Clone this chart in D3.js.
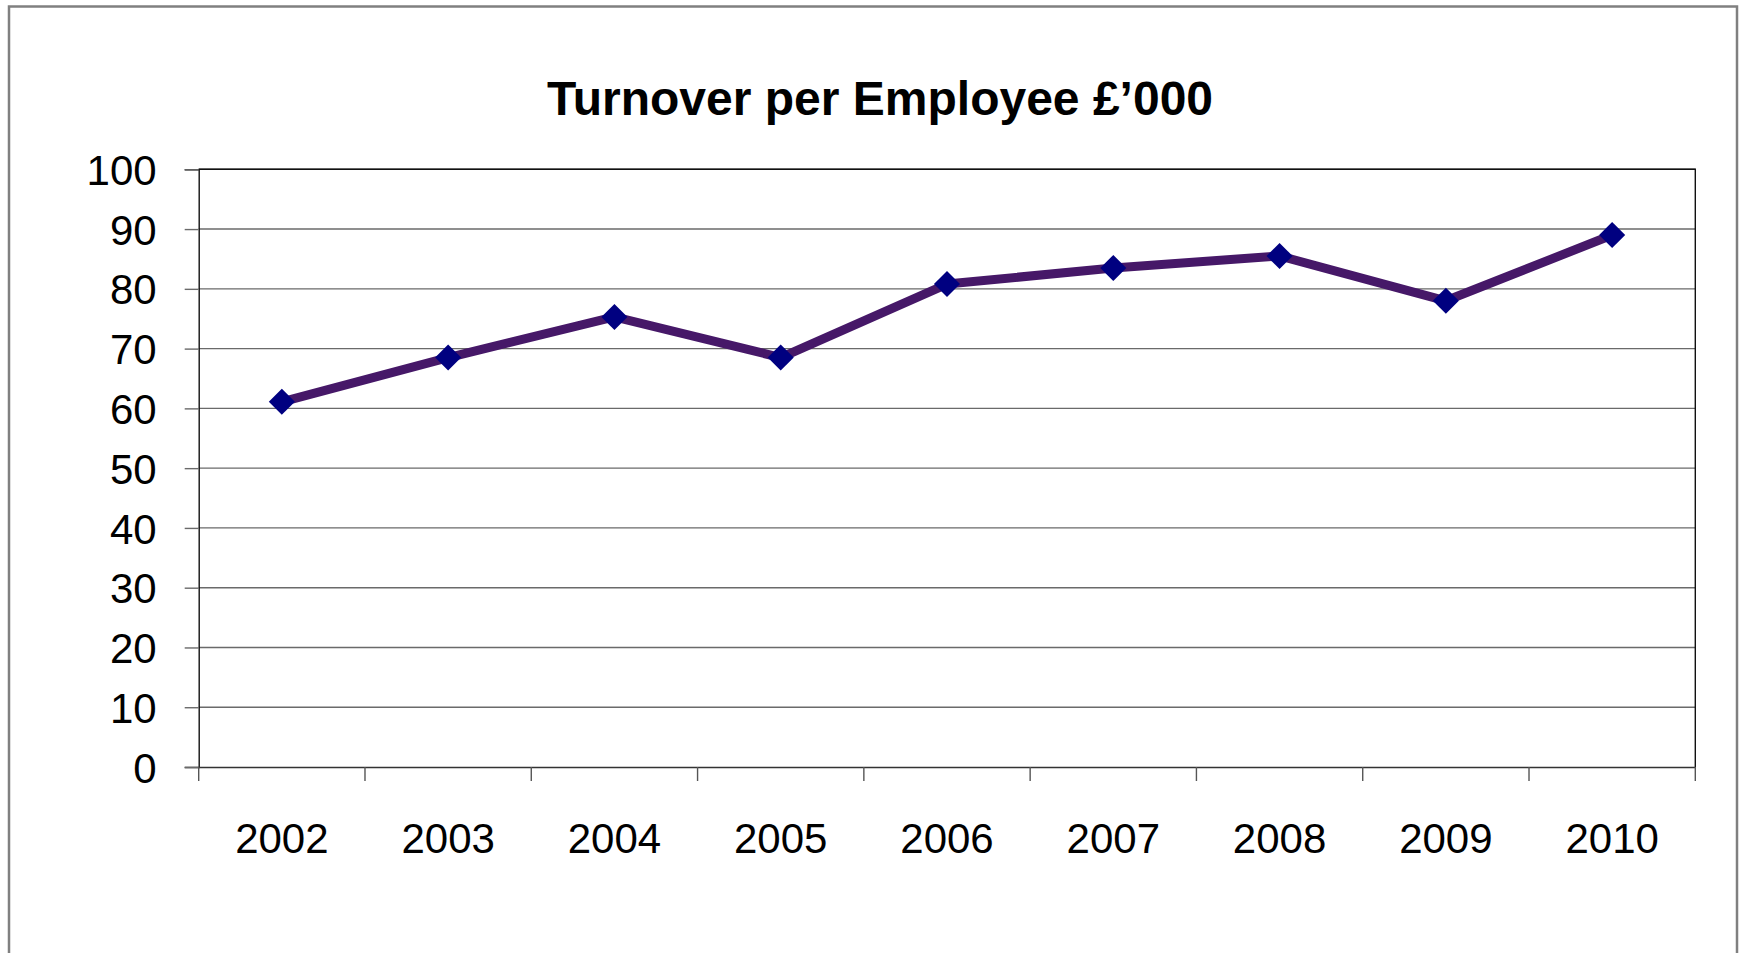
<!DOCTYPE html>
<html>
<head>
<meta charset="utf-8">
<script src="https://cdn.jsdelivr.net/npm/d3@7"></script>
<style>
  html, body { margin: 0; padding: 0; background: #fff; }
  svg { display: block; }
  text { font-family: "Liberation Sans", Arial, sans-serif; fill: #000; }
</style>
</head>
<body>
<svg id="chart" width="1741" height="953"></svg>
<script>
// Turnover per employee, £'000, by year
const years = ["2002", "2003", "2004", "2005", "2006", "2007", "2008", "2009", "2010"];
const turnover = [61.1, 68.5, 75.3, 68.5, 80.8, 83.5, 85.5, 78.0, 89.0];
const yTicks = [0, 10, 20, 30, 40, 50, 60, 70, 80, 90, 100];
const title = "Turnover per Employee £’000";

const svg = d3.select("#chart");
const plot = { left: 198.7, right: 1695.3, top: 169.3, bottom: 767 };

// outer chart frame
svg.append("rect")
  .attr("x", 9).attr("y", 6.5)
  .attr("width", 1728).attr("height", 960)
  .attr("fill", "#fff")
  .attr("stroke", "#808080")
  .attr("stroke-width", 2.5);

const x = d3.scaleBand().domain(years).range([plot.left, plot.right]).padding(0);
const y = d3.scaleLinear().domain([0, 100]).range([plot.bottom, plot.top]);

// horizontal gridlines
svg.append("g")
  .selectAll("line")
  .data(yTicks.filter(v => v > 0))
  .join("line")
  .attr("x1", plot.left).attr("x2", plot.right)
  .attr("y1", d => y(d)).attr("y2", d => y(d))
  .attr("stroke", "#6a6a6a")
  .attr("stroke-width", 1.4);

// plot area right/top border
svg.append("path")
  .attr("d", `M${plot.left},${plot.top}H${plot.right}V${plot.bottom}`)
  .attr("fill", "none")
  .attr("stroke", "#111")
  .attr("stroke-width", 1.4);

// y axis
const yAxis = svg.append("g")
  .attr("transform", `translate(${plot.left},0)`)
  .call(d3.axisLeft(y).tickValues(yTicks).tickSize(14).tickPadding(28).tickFormat(d3.format("d")));
yAxis.select(".domain").attr("stroke", "#111").attr("stroke-width", 1.4);
yAxis.selectAll(".tick line").attr("stroke", "#6a6a6a").attr("stroke-width", 1.4);
yAxis.selectAll(".tick text")
  .attr("font-family", "'Liberation Sans', Arial, sans-serif")
  .attr("font-size", 42)
  .attr("fill", "#000")
  .attr("dy", "0.36em");

// x axis: labels centred in each category, ticks at category boundaries
const xAxis = svg.append("g")
  .attr("transform", `translate(0,${plot.bottom})`)
  .call(d3.axisBottom(x).tickSize(0).tickPadding(56));
xAxis.select(".domain").attr("stroke", "#333").attr("stroke-width", 1.4);
xAxis.selectAll(".tick text")
  .attr("font-family", "'Liberation Sans', Arial, sans-serif")
  .attr("font-size", 42)
  .attr("fill", "#000");

const boundaries = years.map(d => x(d)).concat([x.range()[1]]);
xAxis.append("g")
  .selectAll("line")
  .data(boundaries)
  .join("line")
  .attr("x1", d => d).attr("x2", d => d)
  .attr("y1", 0).attr("y2", 14)
  .attr("stroke", "#555")
  .attr("stroke-width", 1.4);

// series line
const cx = d => x(d) + x.bandwidth() / 2;
const line = d3.line()
  .x((d, i) => cx(years[i]))
  .y(d => y(d));

svg.append("path")
  .datum(turnover)
  .attr("d", line)
  .attr("fill", "none")
  .attr("stroke", "#461868")
  .attr("stroke-width", 9)
  .attr("stroke-linejoin", "round");

// diamond markers
svg.append("g")
  .selectAll("path")
  .data(turnover)
  .join("path")
  .attr("d", d3.symbol(d3.symbolSquare, 340))
  .attr("transform", (d, i) => `translate(${cx(years[i])},${y(d)}) rotate(45)`)
  .attr("fill", "#000080");

// title
svg.append("text")
  .attr("x", 880)
  .attr("y", 115)
  .attr("text-anchor", "middle")
  .attr("font-family", "'Liberation Sans', Arial, sans-serif")
  .attr("font-weight", "bold")
  .attr("font-size", 48)
  .text(title);
</script>
</body>
</html>
